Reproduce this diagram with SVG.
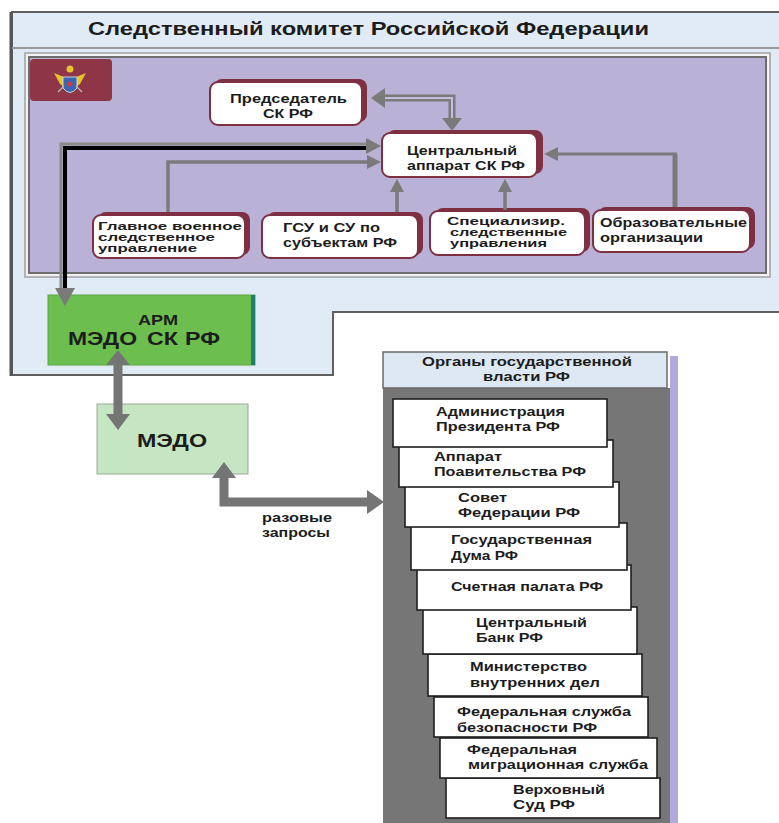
<svg xmlns="http://www.w3.org/2000/svg" width="779" height="823" viewBox="0 0 779 823">
<defs>
<style>
text{font-family:"Liberation Sans",Arial,sans-serif;font-weight:bold;fill:#1c1c1c}
.t13{font-size:13px}
.t11{font-size:11px}
.t12{font-size:12px}
.shadow{fill:#7e2f42}
.nbox{fill:#ffffff;stroke:#7e2f42;stroke-width:2}
.wbox{fill:#ffffff;stroke:#1e1e1e;stroke-width:1.6}
.gline{fill:none;stroke:#7a7a7a;stroke-width:3.5}
.ghead{fill:#7a7a7a}
</style>
</defs>
<rect x="0" y="0" width="779" height="823" fill="#ffffff"/>

<g id="sk-container">
<path d="M12,12 H781 V312 H333 V375 H12 Z" fill="#e1ebf5" stroke="#606060" stroke-width="2"/>
<line x1="11" y1="12" x2="11" y2="376" stroke="#555" stroke-width="3"/>
<line x1="12" y1="48" x2="779" y2="48" stroke="#9a9a9a" stroke-width="2"/>
<text x="88" y="35" font-size="19" textLength="561" lengthAdjust="spacingAndGlyphs">Следственный комитет Российской Федерации</text>
<rect x="25" y="53" width="745" height="224" fill="#f2f2f2" stroke="#a0a0a0" stroke-width="1.5"/>
<rect x="29" y="57" width="737" height="216" fill="#b9b1d6" stroke="#6e6e6e" stroke-width="2"/>
</g>

<g id="emblem">
<rect x="30" y="59" width="82" height="42" rx="4" fill="#8e3548"/>
<polygon points="54,73 64,77 70,81 76,77 86,73 80,84 72,90 68,90 60,84" fill="#e8c22a"/>
<circle cx="70" cy="69" r="3.5" fill="#e8c22a"/>
<path d="M63,77 H77 V88 Q70,97 63,88 Z" fill="#3a66b0" stroke="#c9d3e0" stroke-width="1"/>
<circle cx="70" cy="84" r="2.5" fill="#d43a3a"/>
<line x1="58" y1="92" x2="64" y2="86" stroke="#b8b8b8" stroke-width="1.2"/>
<line x1="82" y1="92" x2="76" y2="86" stroke="#b8b8b8" stroke-width="1.2"/>
</g>

<g id="node-predsedatel">
<rect x="214" y="79" width="153" height="43" rx="8" class="shadow"/>
<rect x="210" y="82" width="152" height="43" rx="8" class="nbox"/>
<text x="230" y="103" class="t13" textLength="117" lengthAdjust="spacingAndGlyphs">Председатель</text>
<text x="263" y="118" class="t13" textLength="50" lengthAdjust="spacingAndGlyphs">СК РФ</text>
</g>

<g id="node-central">
<rect x="387" y="130" width="156" height="44" rx="8" class="shadow"/>
<rect x="382" y="133" width="155" height="44" rx="8" class="nbox"/>
<text x="407" y="155" class="t13" textLength="110" lengthAdjust="spacingAndGlyphs">Центральный</text>
<text x="407" y="170" class="t13" textLength="118" lengthAdjust="spacingAndGlyphs">аппарат СК РФ</text>
</g>

<g id="node-gvsu">
<rect x="98" y="212" width="152" height="43" rx="8" class="shadow"/>
<rect x="93" y="215" width="152" height="43" rx="8" class="nbox"/>
<text x="98" y="230" class="t11" textLength="144" lengthAdjust="spacingAndGlyphs">Главное военное</text>
<text x="98" y="241" class="t11" textLength="117" lengthAdjust="spacingAndGlyphs">следственное</text>
<text x="98" y="252" class="t11" textLength="99" lengthAdjust="spacingAndGlyphs">управление</text>
</g>

<g id="node-gsu">
<rect x="267" y="212" width="156" height="43" rx="8" class="shadow"/>
<rect x="262" y="215" width="156" height="43" rx="8" class="nbox"/>
<text x="283" y="232" class="t13" textLength="97" lengthAdjust="spacingAndGlyphs">ГСУ и СУ по</text>
<text x="283" y="247" class="t13" textLength="114" lengthAdjust="spacingAndGlyphs">субъектам РФ</text>
</g>

<g id="node-spec">
<rect x="435" y="208" width="155" height="44" rx="8" class="shadow"/>
<rect x="430" y="211" width="155" height="44" rx="8" class="nbox"/>
<text x="447" y="225" class="t11" textLength="118" lengthAdjust="spacingAndGlyphs">Специализир.</text>
<text x="450" y="236" class="t11" textLength="117" lengthAdjust="spacingAndGlyphs">следственные</text>
<text x="450" y="247" class="t11" textLength="97" lengthAdjust="spacingAndGlyphs">управления</text>
</g>

<g id="node-obraz">
<rect x="598" y="207" width="157" height="42" rx="8" class="shadow"/>
<rect x="593" y="210" width="157" height="42" rx="8" class="nbox"/>
<text x="600" y="227" class="t13" textLength="147" lengthAdjust="spacingAndGlyphs">Образовательные</text>
<text x="600" y="242" class="t13" textLength="103" lengthAdjust="spacingAndGlyphs">организации</text>
</g>

<g id="node-arm">
<rect x="48" y="295" width="207" height="70" fill="#6cbf4e" stroke="#5aa63f" stroke-width="1"/>
<rect x="251" y="295" width="4" height="70" fill="#1f7f6f"/>
<text x="138" y="325" font-size="14" textLength="40" lengthAdjust="spacingAndGlyphs">АРМ</text>
<text x="68" y="345" font-size="18" fill="#000" textLength="69" lengthAdjust="spacingAndGlyphs">МЭДО</text>
<text x="147" y="345" font-size="18" fill="#1b1f5e" textLength="31" lengthAdjust="spacingAndGlyphs">СК</text>
<text x="185" y="345" font-size="18" fill="#1b1f5e" textLength="35" lengthAdjust="spacingAndGlyphs">РФ</text>
</g>

<g id="node-medo">
<rect x="97" y="404" width="151" height="70" fill="#c6e5c3" stroke="#9aa99a" stroke-width="1"/>
<text x="137" y="447" font-size="18" textLength="70" lengthAdjust="spacingAndGlyphs">МЭДО</text>
</g>

<g id="node-organy">
<rect x="670" y="356" width="8" height="470" fill="#b3a9dc"/>
<rect x="383" y="388" width="287" height="440" fill="#767676"/>
<rect x="383" y="352" width="284" height="36" fill="#dde8f2" stroke="#6a6a6a" stroke-width="1.5"/>
<text x="422" y="366" class="t12" textLength="210" lengthAdjust="spacingAndGlyphs">Органы государственной</text>
<text x="483" y="381" class="t12" textLength="87" lengthAdjust="spacingAndGlyphs">власти РФ</text>
</g>

<g id="node-vs">
<rect x="446" y="778" width="214" height="40" class="wbox"/>
<text x="513" y="794" class="t13" textLength="92" lengthAdjust="spacingAndGlyphs">Верховный</text>
<text x="513" y="809" class="t13" textLength="62" lengthAdjust="spacingAndGlyphs">Суд РФ</text>
</g>
<g id="node-fms">
<rect x="440" y="738" width="217" height="40" class="wbox"/>
<text x="467" y="754" class="t13" textLength="110" lengthAdjust="spacingAndGlyphs">Федеральная</text>
<text x="468" y="769" class="t13" textLength="180" lengthAdjust="spacingAndGlyphs">миграционная служба</text>
</g>
<g id="node-fsb">
<rect x="434" y="697" width="214" height="40" class="wbox"/>
<text x="457" y="716" class="t13" textLength="174" lengthAdjust="spacingAndGlyphs">Федеральная служба</text>
<text x="457" y="732" class="t13" textLength="140" lengthAdjust="spacingAndGlyphs">безопасности РФ</text>
</g>
<g id="node-mvd">
<rect x="428" y="654" width="214" height="42" class="wbox"/>
<text x="470" y="671" class="t13" textLength="117" lengthAdjust="spacingAndGlyphs">Министерство</text>
<text x="470" y="687" class="t13" textLength="130" lengthAdjust="spacingAndGlyphs">внутренних дел</text>
</g>
<g id="node-cb">
<rect x="423" y="607" width="214" height="47" class="wbox"/>
<text x="476" y="627" class="t13" textLength="111" lengthAdjust="spacingAndGlyphs">Центральный</text>
<text x="476" y="642" class="t13" textLength="67" lengthAdjust="spacingAndGlyphs">Банк РФ</text>
</g>
<g id="node-sp">
<rect x="417" y="565" width="214" height="45" class="wbox"/>
<text x="451" y="591" class="t13" textLength="152" lengthAdjust="spacingAndGlyphs">Счетная палата РФ</text>
</g>
<g id="node-gd">
<rect x="411" y="523" width="216" height="47" class="wbox"/>
<text x="451" y="544" class="t13" textLength="141" lengthAdjust="spacingAndGlyphs">Государственная</text>
<text x="451" y="560" class="t13" textLength="67" lengthAdjust="spacingAndGlyphs">Дума РФ</text>
</g>
<g id="node-sf">
<rect x="405" y="482" width="214" height="45" class="wbox"/>
<text x="458" y="502" class="t13" textLength="49" lengthAdjust="spacingAndGlyphs">Совет</text>
<text x="458" y="517" class="t13" textLength="122" lengthAdjust="spacingAndGlyphs">Федерации РФ</text>
</g>
<g id="node-apr">
<rect x="399" y="440" width="214" height="47" class="wbox"/>
<text x="434" y="461" class="t13" textLength="68" lengthAdjust="spacingAndGlyphs">Аппарат</text>
<text x="434" y="476" class="t13" textLength="152" lengthAdjust="spacingAndGlyphs">Поавительства РФ</text>
</g>
<g id="node-ap">
<rect x="393" y="399" width="214" height="48" class="wbox"/>
<text x="436" y="416" class="t13" textLength="129" lengthAdjust="spacingAndGlyphs">Администрация</text>
<text x="436" y="431" class="t13" textLength="124" lengthAdjust="spacingAndGlyphs">Президента РФ</text>
</g>

<g id="connectors">
<path d="M382,98 H452 V120" fill="none" stroke="#7a7a7a" stroke-width="7"/>
<path d="M382,98 H452 V120" fill="none" stroke="#c4bde0" stroke-width="2"/>
<polygon points="371,98 385,88 385,108" class="ghead"/>
<polygon points="452,131 442,118 462,118" class="ghead"/>
<path d="M61,290 V144 H370" fill="none" stroke="#8a8a8a" stroke-width="3"/>
<path d="M65,290 V148 H370" fill="none" stroke="#000000" stroke-width="4"/>
<polygon points="381,146 366,138 366,154" class="ghead"/>
<polygon points="65,306 55,288 75,288" class="ghead"/>
<path d="M168,212 V162 H372" class="gline"/>
<polygon points="381,162 367,155 367,169" class="ghead"/>
<path d="M397,212 V188" class="gline"/>
<polygon points="397,179 390,192 404,192" class="ghead"/>
<path d="M505,210 V188" class="gline"/>
<polygon points="505,179 498,192 512,192" class="ghead"/>
<path d="M675,207 V154" fill="none" stroke="#7a7a7a" stroke-width="5"/>
<path d="M677,154 H554" fill="none" stroke="#7a7a7a" stroke-width="3"/>
<polygon points="544,154 558,147 558,161" class="ghead"/>
<path d="M118,360 V418" fill="none" stroke="#757575" stroke-width="9"/>
<polygon points="118,350 106,365 130,365" fill="#757575"/>
<polygon points="118,430 106,414 130,414" fill="#757575"/>
<path d="M224,474 V502 H370" fill="none" stroke="#757575" stroke-width="9"/>
<polygon points="224,462 212,478 236,478" fill="#757575"/>
<polygon points="384,502 367,490 367,514" fill="#757575"/>
<text x="262" y="522" class="t12" fill="#2a2a3a" textLength="70" lengthAdjust="spacingAndGlyphs">разовые</text>
<text x="262" y="537" class="t12" fill="#2a2a3a" textLength="68" lengthAdjust="spacingAndGlyphs">запросы</text>
</g>
</svg>
